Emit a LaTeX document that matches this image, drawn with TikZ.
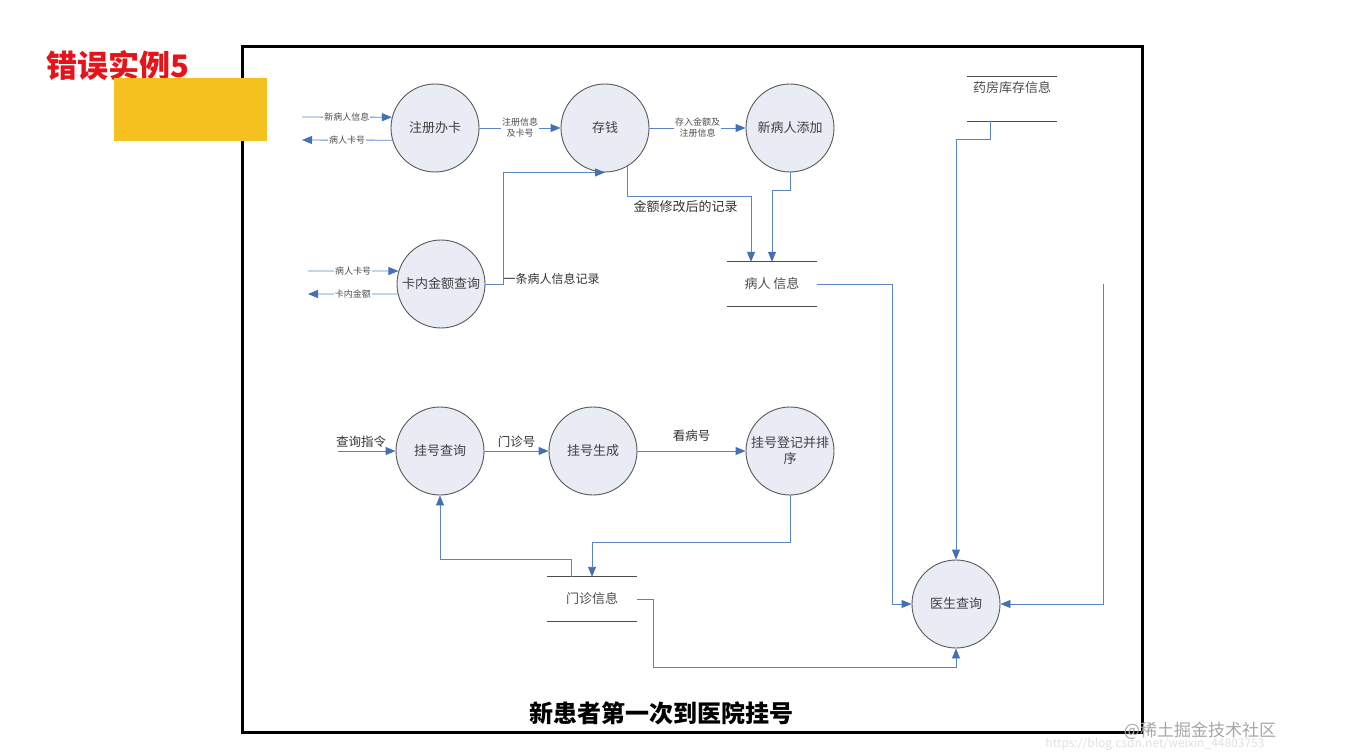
\documentclass[tikz,border=0pt]{standalone}
\usepackage{fontspec}
\setmainfont{Noto Sans CJK SC}
\usepackage{xcolor}
\usepackage{tikz}
\usetikzlibrary{arrows.meta,calc,positioning}
\definecolor{flow}{HTML}{5B84C4}
\definecolor{tip}{HTML}{4470B6}
\definecolor{bubble}{HTML}{E9EBF5}
\definecolor{gold}{HTML}{F5C11F}
\definecolor{wrong}{HTML}{E5141B}

\begin{document}
\begin{tikzpicture}[x=1pt,y=-1pt,
  proc/.style={circle,draw=black!65,fill=bubble,line width=0.9pt,minimum size=88pt,inner sep=0pt,font=\fontsize{13}{16}\selectfont,text=black!75},
  store/.style={minimum width=89pt,minimum height=44pt,inner sep=0pt,font=\fontsize{13}{15}\selectfont,text=black!70},
  flowline/.style={flow,line width=0.9pt,-{Triangle[length=10pt,width=8pt,color=tip]}},
  tiny/.style={font=\fontsize{9}{11}\selectfont,text=black!70,fill=white,inner sep=1pt},
  lbl/.style={font=\fontsize{12.5}{14}\selectfont,text=black!80}]
\useasboundingbox (0,0) rectangle (1347,754);
\draw[line width=3pt] (242,47) rectangle (1142,732);
\node[text=wrong,font=\bfseries\fontsize{31}{33}\selectfont] (cuowu) at (118,66) {错误实例5};
\fill[gold] (114,78) rectangle (267,141);
% processes
\node[proc] (zhuce) at (435,128) {注册办卡};
\node[proc] (cunqian) at (605,128) {存钱};
\node[proc] (xinbing) at (790,128) {新病人添加};
\node[proc] (kanei) at (441,284) {卡内金额查询};
\node[proc] (guahao) at (440,451) {挂号查询};
\node[proc] (shengcheng) at (593,451) {挂号生成};
\node[proc,align=center] (dengji) at (790,451) {挂号登记并排\\序};
\node[proc] (yisheng) at (956,604) {医生查询};
% data stores
\node[store] (bingren) at (772,284) {病人 信息};
\node[store] (menzhen) at (592,599) {门诊信息};
\node[store] (yaofang) at (1012,99) {};
\node[store,minimum height=0pt,minimum width=0pt] (yaofangtxt) at (1012,88) {药房库存信息};
\foreach \s in {bingren,menzhen,yaofang}
  \draw[black!70,line width=1pt] (\s.north west)--(\s.north east) (\s.south west)--(\s.south east);
% outside flows
\coordinate (in1) at (302,117);
\coordinate (out1) at (302,140);
\coordinate (in2) at (308,271);
\coordinate (out2) at (308,294);
\coordinate (qin) at (338,451);
\coordinate (rin) at (1103,284);
\draw[flowline] (in1) -- (zhuce.166) node[tiny,midway]{新病人信息};
\draw[flowline] (zhuce.196) -- (out1) node[tiny,midway]{病人卡号};
\draw[flowline] (in2) -- (kanei.163) node[tiny,midway]{病人卡号};
\draw[flowline] (kanei.193) -- (out2) node[tiny,midway]{卡内金额};
\draw[flowline] (qin) -- (guahao.west) node[lbl,above,pos=0.4]{查询指令};
\draw[flowline] (rin) |- (yisheng.east);
% inner flows
\draw[flowline] (zhuce) -- (cunqian) node[tiny,midway,align=center]{注册信息\\及卡号};
\draw[flowline] (cunqian) -- (xinbing) node[tiny,midway,align=center]{存入金额及\\注册信息};
\draw[flowline] (kanei.east) -- ++(18,0) |- (cunqian.south);
\node[lbl,anchor=west,font=\fontsize{12}{14}\selectfont] (jilu) at (500,279) {一条病人信息记录};
\draw[flowline] (cunqian.301) -- ++(0,30) -| ([xshift=-21pt]bingren.north);
\node[lbl,anchor=west,font=\fontsize{13}{15}\selectfont] (xiugai) at (630,207) {金额修改后的记录};
\draw[flowline] (xinbing.south) -- ++(0,18) -| (bingren.north);
\draw[flowline] (bingren.east) -- ++(76,0) |- (yisheng.west);
\draw[flowline] ([xshift=-22pt]yaofang.south) -- ++(0,18) -| (yisheng.north);
\draw[flowline] (guahao) -- (shengcheng) node[lbl,above,midway]{门诊号};
\draw[flowline] (shengcheng) -- (dengji) node[lbl,above=6pt,midway]{看病号};
\draw[flowline] (dengji.south) -- ++(0,47) -| (menzhen.north);
\draw[flowline] ([xshift=-21pt]menzhen.north) -- ++(0,-17) -| (guahao.south);
\draw[flowline] (menzhen.east) -- ++(17,0) -- ++(0,68) -| (yisheng.south);
% captions
\node[font=\bfseries\fontsize{24}{26}\selectfont] (biaoti) at (661,713) {新患者第一次到医院挂号};
\node[text=black!12,font=\fontsize{12}{13}\selectfont] (wangzhi) at (1155,744) {https://blog.csdn.net/weixin\_44803753};
\node[text=black!35,font=\fontsize{17}{18}\selectfont] (shuiyin) at (1200,731) {@稀土掘金技术社区};
\end{tikzpicture}
\end{document}
